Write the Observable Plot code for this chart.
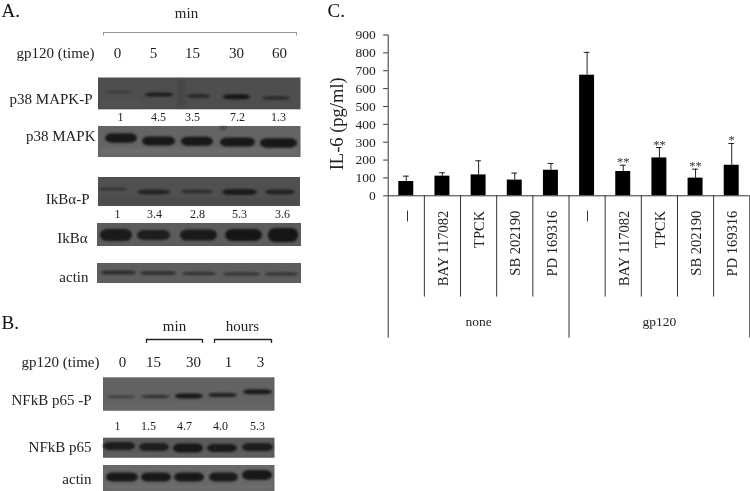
<!DOCTYPE html>
<html>
<head>
<meta charset="utf-8">
<script src="https://cdn.jsdelivr.net/npm/d3@7"></script>
<script src="https://cdn.jsdelivr.net/npm/@observablehq/plot@0.6"></script>
<style>
html,body{margin:0;padding:0;background:#fff;}
#chart{position:relative;width:750px;height:491px;overflow:hidden;background:#fff;}
</style>
</head>
<body>
<div id="chart"></div>
<script>
// ---------- Panel C data ----------
const treatments = ["—", "BAY 117082", "TPCK", "SB 202190", "PD 169316", "—", "BAY 117082", "TPCK", "SB 202190", "PD 169316"];
const groups = ["none", "gp120"];
const il6Mean = [80, 110, 117, 88, 143, 675, 136, 212, 99, 171];
const il6Top = [110, 129, 196, 127, 181, 803, 171, 270, 149, 293];
const il6Stars = ["", "", "", "", "", "", "**", "**", "**", "*"];
const il6Ticks = [0, 100, 200, 300, 400, 500, 600, 700, 800, 900];

// ---------- Panels A and B data ----------
const panelATimes = ["0", "5", "15", "30", "60"];
const panelAFoldP38 = ["1", "4.5", "3.5", "7.2", "1.3"];
const panelAFoldIkB = ["1", "3.4", "2.8", "5.3", "3.6"];
const panelBTimes = ["0", "15", "30", "1", "3"];
const panelBFold = ["1", "1.5", "4.7", "4.0", "5.3"];

const blotNames = ["p38 MAPK-P", "p38 MAPK", "IkBα-P", "IkBα", "actin", "NFkB p65 -P", "NFkB p65", "actin "];
const blotBackground = ["#4e4e4e", "#646464", "#505050", "#5c5c5c", "#5e5e5e", "#626262", "#5a5a5a", "#686868"];
const blotBandColor = [
  ["#3a3a3a", "#1e1e1e", "#242424", "#161616", "#2a2a2a"],
  ["#181818", "#181818", "#181818", "#181818", "#181818"],
  ["#303030", "#242424", "#2c2c2c", "#1c1c1c", "#242424"],
  ["#1a1a1a", "#1e1e1e", "#1a1a1a", "#161616", "#161616"],
  ["#2c2c2c", "#303030", "#343434", "#363636", "#363636"],
  ["#3a3a3a", "#303030", "#181818", "#222222", "#1c1c1c"],
  ["#1c1c1c", "#1e1e1e", "#181818", "#1a1a1a", "#1c1c1c"],
  ["#181818", "#181818", "#181818", "#1a1a1a", "#181818"]
];

// ---------- Layout geometry (scale units) ----------
const blotBox = [[98,300.5,77.5,109.3],[98,300.5,126,157],[98,300,177,206],[97,301,223,246],[97,301,263,283],[103,274.5,377.3,410.7],[103,274.5,437.7,457.7],[103,274.5,465,491]];
const bandBox = [
  [[105,133,92,2],[145,173,94.5,4],[187,210,96,3.5],[223,250,96.7,5],[262,290,98,3.5]],
  [[105,137,138,9.5],[142,175,141,9],[181,213,141.3,9],[220,255,142,9],[260,297,143,9.5]],
  [[99,127,189,2.5],[138,170,192,5],[181,213,191.5,3.5],[222,257,192,6],[265,295,192,5]],
  [[100,132,235,12],[137,170,235,10],[180,217,235,11],[225,262,235,12],[268,298,235,14]],
  [[101,136,272.5,4],[140,176,273,4],[182,216,273.5,3.5],[223,260,274,3.5],[265,298,274,3.5]],
  [[107,135,396.7,2.5],[141,170,396.5,3],[175,203,396,5],[208,237,395,4],[243,272,391.7,5]],
  [[103,135,446,8],[139,169,447,8],[173,203,448,9],[207,237,448,8],[242,273,447,8]],
  [[106,138,477,9],[141,171,477,9],[174,204,477,9],[209,238,477,9],[242,272,475,10]]
];
const mottlePatches = [
  [177,186,80,107,"#474747"],[100,140,100,107,"#525252"],
  [100,298,148,155,"#6c6c6c"],[220,226,127,129,"#2e2e2e"],
  [100,298,198,204,"#4b4b4b"],
  [105,272,403,409,"#676767"],[105,272,453,456,"#606060"],[105,272,485,489,"#6e6e6e"]
];
const blotLabelAt = [[92,99],[95,136],[89,199],[87,238],[88,277],[91,400],[91,447],[91,479]];

const blots = blotNames.map((name, i) => ({name, fill: blotBackground[i], x1: blotBox[i][0], x2: blotBox[i][1], y1: blotBox[i][2], y2: blotBox[i][3]}));
const patches = mottlePatches.map(p => ({x1: p[0], x2: p[1], y1: p[2], y2: p[3], fill: p[4]}));
const bands = bandBox.flatMap((row, i) => row.map((b, j) => ({fill: blotBandColor[i][j], x1: b[0], x2: b[1], y1: b[2] - b[3] / 2, y2: b[2] + b[3] / 2})));
const blotLabels = blotNames.map((name, i) => ({text: name.trim(), x: blotLabelAt[i][0], y: blotLabelAt[i][1]}));

const place = (texts, xs, y) => texts.map((text, i) => ({text, x: xs[i], y}));
const timeLabels = [
  ...place(panelATimes, [117, 153, 192, 236, 279], 53),
  ...place(panelBTimes, [122, 153, 193, 228, 260], 362)
];
const foldLabels = [
  ...place(panelAFoldP38, [120, 158, 192, 237, 278], 117),
  ...place(panelAFoldIkB, [117, 154, 197, 239, 282], 214),
  ...place(panelBFold, [117, 148, 184, 220, 257], 426)
];
const brackets = [
  {x1: 103, x2: 296, y: 32, drop: 3.5, stroke: "#8a8a8a", w: 0.9},
  {x1: 146, x2: 202, y: 339, drop: 4, stroke: "#222", w: 1.3},
  {x1: 214, x2: 271, y: 339, drop: 4, stroke: "#222", w: 1.3}
];
const bracketLegs = brackets.flatMap(b => [b.x1, b.x2].map(x => ({x, y1: b.y, y2: b.y + b.drop, stroke: b.stroke, w: b.w})));

const serif = "Liberation Serif";
const ink = "#222";
const soft = "blur(0.3px)";

const left = Plot.plot({
  width: 320, height: 491,
  marginTop: 0, marginRight: 0, marginBottom: 0, marginLeft: 0,
  x: {domain: [0, 320], range: [0, 320], axis: null},
  y: {domain: [0, 491], range: [0, 491], axis: null},
  color: {type: "identity"},
  style: {position: "absolute", left: "0px", top: "0px", background: "transparent", overflow: "visible"},
  marks: [
    Plot.rect(blots, {x1: "x1", x2: "x2", y1: "y1", y2: "y2", fill: "fill", imageFilter: "blur(0.5px)"}),
    Plot.rect(patches, {x1: "x1", x2: "x2", y1: "y1", y2: "y2", fill: "fill", imageFilter: "blur(1.5px)"}),
    Plot.rect(bands, {x1: "x1", x2: "x2", y1: "y1", y2: "y2", fill: "fill", rx: 7, ry: 6, imageFilter: "blur(1px)"}),
    Plot.ruleY(brackets, {x1: "x1", x2: "x2", y: "y", stroke: "stroke", strokeWidth: "w", imageFilter: soft}),
    Plot.ruleX(bracketLegs, {x: "x", y1: "y1", y2: "y2", stroke: "stroke", strokeWidth: "w", imageFilter: soft}),
    Plot.text(blotLabels, {x: "x", y: "y", text: "text", textAnchor: "end", fontFamily: serif, fontSize: 15, fill: ink, imageFilter: soft}),
    Plot.text(timeLabels, {x: "x", y: "y", text: "text", fontFamily: serif, fontSize: 15, fill: ink, imageFilter: soft}),
    Plot.text(foldLabels, {x: "x", y: "y", text: "text", fontFamily: serif, fontSize: 12, fill: ink, imageFilter: soft}),
    Plot.text([{t: "gp120 (time)", x: 94, y: 53}, {t: "gp120 (time)", x: 99, y: 362}], {x: "x", y: "y", text: "t", textAnchor: "end", fontFamily: serif, fontSize: 15, fill: ink, imageFilter: soft}),
    Plot.text([{t: "min", x: 186, y: 13}, {t: "min", x: 174, y: 326}, {t: "hours", x: 242, y: 326}], {x: "x", y: "y", text: "t", fontFamily: serif, fontSize: 15, fill: ink, imageFilter: soft}),
    Plot.text([{t: "A.", x: 1, y: 10.5}, {t: "B.", x: 1, y: 322}], {x: "x", y: "y", text: "t", textAnchor: "start", fontFamily: serif, fontSize: 19, fill: "#111", imageFilter: soft})
  ]
});

// ---------- Panel C ----------
const idx = treatments.map((_, i) => i);
const right = Plot.plot({
  width: 430, height: 491,
  marginTop: 34.5, marginRight: 0.7, marginBottom: 295.7, marginLeft: 67.7,
  x: {domain: [0, 10], axis: null},
  y: {domain: [0, 900], ticks: il6Ticks, axis: null},
  style: {position: "absolute", left: "320px", top: "0px", background: "transparent", overflow: "visible"},
  marks: [
    Plot.ruleX(idx, {x: i => i + 0.5, y1: i => il6Mean[i], y2: i => il6Top[i], stroke: "#222", strokeWidth: 1}),
    Plot.ruleY(idx, {y: i => il6Top[i], x1: i => i + 0.42, x2: i => i + 0.58, stroke: "#222", strokeWidth: 1}),
    Plot.rectY(idx, {x1: i => i, x2: i => i + 1, y1: 0, y2: i => il6Mean[i], fill: "#000", insetLeft: 10.6, insetRight: 10.6}),
    Plot.axisY({ticks: il6Ticks, tickSize: 4.5, tickPadding: 8, tickFormat: d => d, label: null, fontFamily: serif, fontSize: 13.5, color: ink, stroke: "#333", imageFilter: soft}),
    Plot.ruleX([0], {y1: 0, y2: 900, stroke: "#333", strokeWidth: 1}),
    Plot.ruleY([0], {stroke: "#333", strokeWidth: 1}),
    Plot.ruleX(d3.range(1, 10).filter(i => i !== 5), {y1: 0, y2: -567, stroke: "#333", strokeWidth: 1}),
    Plot.ruleX([0, 5, 10], {y1: 0, y2: -797, stroke: "#333", strokeWidth: 1}),
    Plot.text(idx.filter(i => treatments[i] !== "—"), {x: i => i + 0.53, y: 0, dy: 15, text: i => treatments[i], rotate: -90, textAnchor: "end", fontFamily: serif, fontSize: 14.5, fill: ink, imageFilter: soft}),
    Plot.text(idx.filter(i => treatments[i] === "—"), {x: i => i + 0.5, y: 0, dy: 15, text: i => treatments[i], rotate: -90, textAnchor: "end", fontFamily: serif, fontSize: 10.5, fill: "#000", stroke: "#000", strokeWidth: 0.3, imageFilter: soft}),
    Plot.text(groups, {x: (d, i) => i * 5 + 2.5, y: -707, text: d => d, fontFamily: serif, fontSize: 13.5, fill: ink, imageFilter: soft}),
    Plot.text(idx.filter(i => il6Stars[i]), {x: i => i + 0.5, y: i => il6Top[i], dy: -3, text: i => il6Stars[i], fontFamily: serif, fontSize: 12.5, fill: "#333", imageFilter: soft}),
    Plot.text(["IL-6 (pg/ml)"], {x: 0, y: 403, dx: -51.5, text: d => d, rotate: -90, fontFamily: serif, fontSize: 18.5, fill: ink, imageFilter: soft}),
    Plot.text(["C."], {x: 0, y: 900, dx: -60.7, dy: -24, text: d => d, textAnchor: "start", fontFamily: serif, fontSize: 19, fill: "#111", imageFilter: soft})
  ]
});

const host = document.getElementById("chart");
host.append(left, right);
</script>
</body>
</html>
